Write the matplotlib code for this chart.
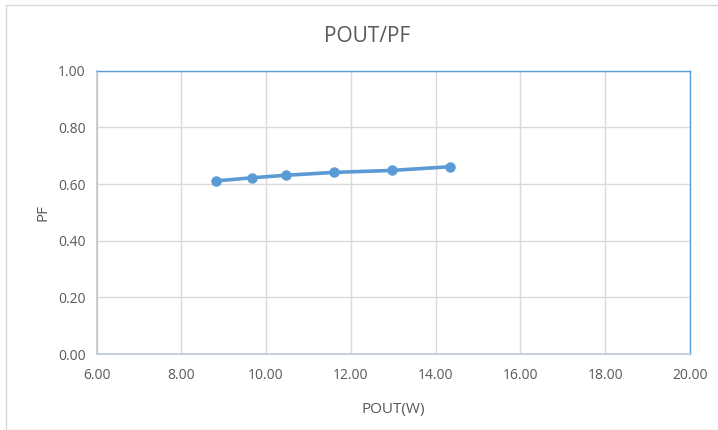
import matplotlib
matplotlib.use("Agg")
import matplotlib.pyplot as plt
from matplotlib.patches import Rectangle

pout = [8.82, 9.67, 10.48, 11.60, 12.97, 14.34]
pf = [0.611, 0.622, 0.631, 0.641, 0.648, 0.661]
xticks = [6, 8, 10, 12, 14, 16, 18, 20]
yticks = [0.0, 0.2, 0.4, 0.6, 0.8, 1.0]

plt.rcParams['font.family'] = ['Open Sans', 'DejaVu Sans']
W, H = 718, 430
fig = plt.figure(figsize=(W/100, H/100), dpi=100)
fig.patches.append(Rectangle((6/W, 0), 1.2, 1 - 5/H, transform=fig.transFigure,
                             fill=False, edgecolor='#D9D9D9', linewidth=1.0))
ax = fig.add_axes([96.5/W, (H-354)/H, (690-96.5)/W, (354-70.7)/H])
ax.plot(pout, pf, color='#5B9BD5', linewidth=2.6, marker='o', markersize=6.5,
        markerfacecolor='#5B9BD5', markeredgecolor='#5B9BD5', zorder=3)
ax.set_xlim(6, 20)
ax.set_ylim(0, 1)
ax.set_xticks(xticks)
ax.set_yticks(yticks)
ax.set_xticklabels([f"{v:.2f}" for v in xticks])
ax.set_yticklabels([f"{v:.2f}" for v in yticks])
ax.grid(True, color='#D9D9D9', linewidth=1.0)
ax.set_axisbelow(True)
for s in ['left', 'bottom']:
    ax.spines[s].set_color('#BFC7D0')
    ax.spines[s].set_linewidth(1.2)
for s in ['top', 'right']:
    ax.spines[s].set_color('#5B9BD5')
    ax.spines[s].set_linewidth(1.0)
ax.tick_params(axis='both', length=0, labelsize=10, labelcolor='#595959', pad=8)
ax.tick_params(axis='x', pad=10)
ax.set_xlabel('POUT(W)', fontsize=11, color='#595959', labelpad=14)
ax.set_ylabel('PF', fontsize=11, color='#595959', labelpad=5)
fig.text(367/W, 1 - 37/H, 'POUT/PF', fontsize=15, color='#595959',
         ha='center', va='center')
fig.savefig('out.png', dpi=100)
